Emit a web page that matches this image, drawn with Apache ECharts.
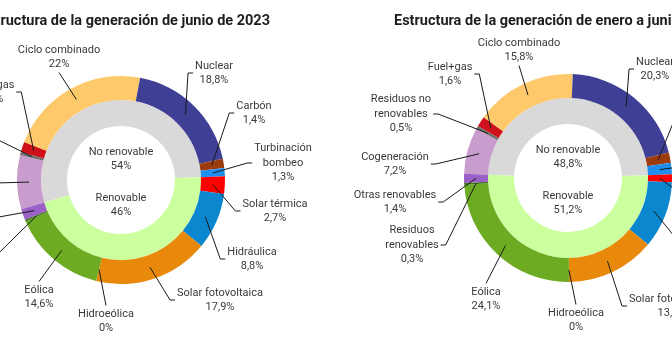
<!DOCTYPE html>
<html>
<head>
<meta charset="utf-8">
<script src="https://cdn.jsdelivr.net/npm/echarts@6/dist/echarts.min.js"></script>
<style>
  html, body { margin: 0; padding: 0; background: #ffffff; }
  #chart { width: 672px; height: 343px; }
</style>
</head>
<body>
<div id="chart"></div>
<script>
// Generation technologies, clockwise from the start of the non-renewable block
const categories = [
  'Cogeneración', 'Residuos no renovables', 'Fuel+gas', 'Ciclo combinado', 'Nuclear',
  'Carbón', 'Turbinación bombeo', 'Solar térmica', 'Hidráulica', 'Solar fotovoltaica',
  'Hidroeólica', 'Eólica', 'Residuos renovables', 'Otras renovables'
];
// Share of generation (%), June 2023
const shareJune = [8.4, 0.5, 1.6, 22, 18.8, 1.4, 1.3, 2.7, 8.8, 17.9, 0, 14.6, 0.3, 1.7];
// Share of generation (%), January-June 2023
const shareH1 = [7.2, 0.5, 1.6, 15.8, 20.3, 1.6, 1.8, 1.2, 10.4, 13.8, 0, 24.1, 0.3, 1.4];

const groups = ['No renovable', 'Renovable'];
const groupJune = [54, 46];
const groupH1 = [48.8, 51.2];

const titles = [
  'Estructura de la generación de junio de 2023',
  'Estructura de la generación de enero a junio de 2023'
];

// ---- styling ----
const FONT = "Roboto, 'Noto Sans', sans-serif";
const TEXT = '#3a3a3a';
const techColors = {
  'Cogeneración': '#c89ccc',
  'Residuos no renovables': '#707070',
  'Fuel+gas': '#cf111b',
  'Ciclo combinado': '#fdc96b',
  'Nuclear': '#403f96',
  'Carbón': '#9c3b0c',
  'Turbinación bombeo': '#1e8ff0',
  'Solar térmica': '#fe0000',
  'Hidráulica': '#0b87cf',
  'Solar fotovoltaica': '#e8890c',
  'Hidroeólica': '#2f6fb0',
  'Eólica': '#6cab22',
  'Residuos renovables': '#3f7a1a',
  'Otras renovables': '#9a60c8'
};
const groupColors = { 'No renovable': '#d9d9d9', 'Renovable': '#ccff9e' };
const lineBreaks = {
  'Turbinación bombeo': 'Turbinación\nbombeo',
  'Residuos no renovables': 'Residuos no\nrenovables',
  'Residuos renovables': 'Residuos\nrenovables'
};
const pct = v => String(v).replace('.', ',') + '%';

// ring geometry (px)
const R_HOLE = 54, R_MID = 80, R_OUT = 104, R_LEAD = 92;
const PIVOT = 2; // angle (deg) where the renewable block begins
const LABEL_SIZE = 11, LABEL_LINE = 14.5;

// label spots relative to each donut centre: [dx, dy, side the leader attaches to]
const spotsJune = {
  'Ciclo combinado': [-62, -123, 'b'],
  'Nuclear': [93, -107, 'l'],
  'Carbón': [133, -67, 'l'],
  'Turbinación bombeo': [162, -17, 'l'],
  'Solar térmica': [154, 31, 'l'],
  'Hidráulica': [131, 79, 'l'],
  'Solar fotovoltaica': [99, 120, 'l'],
  'Hidroeólica': [-15, 141, 't'],
  'Eólica': [-82, 117, 't'],
  'Residuos renovables': [-161, 78, 'r'],
  'Otras renovables': [-176, 38, 'r'],
  'Cogeneración': [-166, 3, 'r'],
  'Residuos no renovables': [-164, -42, 'r'],
  'Fuel+gas': [-129, -88, 'r']
};
const spotsH1 = {
  'Ciclo combinado': [-49, -128, 'b'],
  'Nuclear': [87, -109, 'l'],
  'Carbón': [135, -68, 'l'],
  'Turbinación bombeo': [162, -13, 'l'],
  'Solar térmica': [167, 27, 'l'],
  'Hidráulica': [149, 72, 'l'],
  'Solar fotovoltaica': [104, 128, 'l'],
  'Hidroeólica': [8, 142, 't'],
  'Eólica': [-82, 121, 't'],
  'Residuos renovables': [-156, 67, 'r'],
  'Otras renovables': [-173, 24, 'r'],
  'Cogeneración': [-173, -14, 'r'],
  'Residuos no renovables': [-167, -64, 'r'],
  'Fuel+gas': [-118, -104, 'r']
};
const groupSpots = { 'No renovable': [0, -21], 'Renovable': [0, 25] };

// Moves each label to its spot and bends its leader: out from the ring, then a short shoulder
function placeLabels(cx, cy, spots, names) {
  return function (p) {
    const s = spots[names[p.dataIndex]];
    if (!s) return {};
    const x = cx + s[0], y = cy + s[1];
    const out = { x: x, y: y, align: 'center', verticalAlign: 'middle' };
    const side = s[2];
    if (side && p.labelLinePoints) {
      const w = p.labelRect.width, h = p.labelRect.height;
      const from = p.labelLinePoints[0];
      let end, knee;
      if (side === 'l') { end = [x - w / 2 - 2, y]; knee = [end[0] - 5, y]; }
      else if (side === 'r') { end = [x + w / 2 + 2, y]; knee = [end[0] + 5, y]; }
      else if (side === 'b') { end = [x, y + h / 2 + 1]; knee = end; }
      else { end = [x, y - h / 2 - 1]; knee = end; }
      out.labelLinePoints = [from, knee, end];
    }
    return out;
  };
}

function donut(cx, cy, tech, grp, spots) {
  const start = PIVOT + grp[0] * 3.6;
  const techData = categories.map((n, i) => ({ name: n, value: tech[i], itemStyle: { color: techColors[n] } }));
  const groupData = groups.map((n, i) => ({ name: n, value: grp[i], itemStyle: { color: groupColors[n] } }));
  const base = {
    type: 'pie', center: [cx, cy], startAngle: start, clockwise: true,
    avoidLabelOverlap: false, silent: true, animation: false,
    emphasis: { disabled: true }
  };
  const labelText = { color: TEXT, fontFamily: FONT, fontSize: LABEL_SIZE, lineHeight: LABEL_LINE };
  return [
    // inner ring: renewable vs non-renewable
    Object.assign({}, base, {
      radius: [R_HOLE, R_MID], data: groupData, z: 2,
      label: Object.assign({ show: true, position: 'inside', formatter: p => p.name + '\n' + pct(p.value) }, labelText),
      labelLine: { show: false },
      labelLayout: placeLabels(cx, cy, groupSpots, groups)
    }),
    // outer ring: technologies
    Object.assign({}, base, {
      radius: [R_MID, R_OUT], data: techData, z: 2,
      label: { show: false }, labelLine: { show: false }
    }),
    // invisible ring at mid-band radius that carries the technology labels and leaders
    Object.assign({}, base, {
      radius: [R_LEAD - 1, R_LEAD], z: 3,
      data: techData.map(d => ({ name: d.name, value: d.value, itemStyle: { color: 'rgba(0,0,0,0)' } })),
      label: Object.assign({
        show: true, position: 'outside',
        formatter: p => (lineBreaks[p.name] || p.name) + '\n' + pct(p.value)
      }, labelText),
      labelLine: { show: true, length: 8, length2: 4, smooth: false, lineStyle: { color: '#1a1a1a', width: 1 } },
      labelLayout: placeLabels(cx, cy, spots, categories)
    })
  ];
}

const chart = echarts.init(document.getElementById('chart'), null, { renderer: 'canvas' });
const titleStyle = { color: '#1e1e1e', fontFamily: FONT, fontSize: 14.5, fontWeight: 'bold' };
chart.setOption({
  animation: false,
  backgroundColor: '#ffffff',
  title: [
    { text: titles[0], left: 270, top: 14, padding: 0, textAlign: 'right', textStyle: titleStyle },
    { text: titles[1], left: 394, top: 14, padding: 0, textAlign: 'left', textStyle: titleStyle }
  ],
  series: [].concat(
    donut(121, 180, shareJune, groupJune, spotsJune),
    donut(568, 178, shareH1, groupH1, spotsH1)
  )
});
</script>
</body>
</html>
